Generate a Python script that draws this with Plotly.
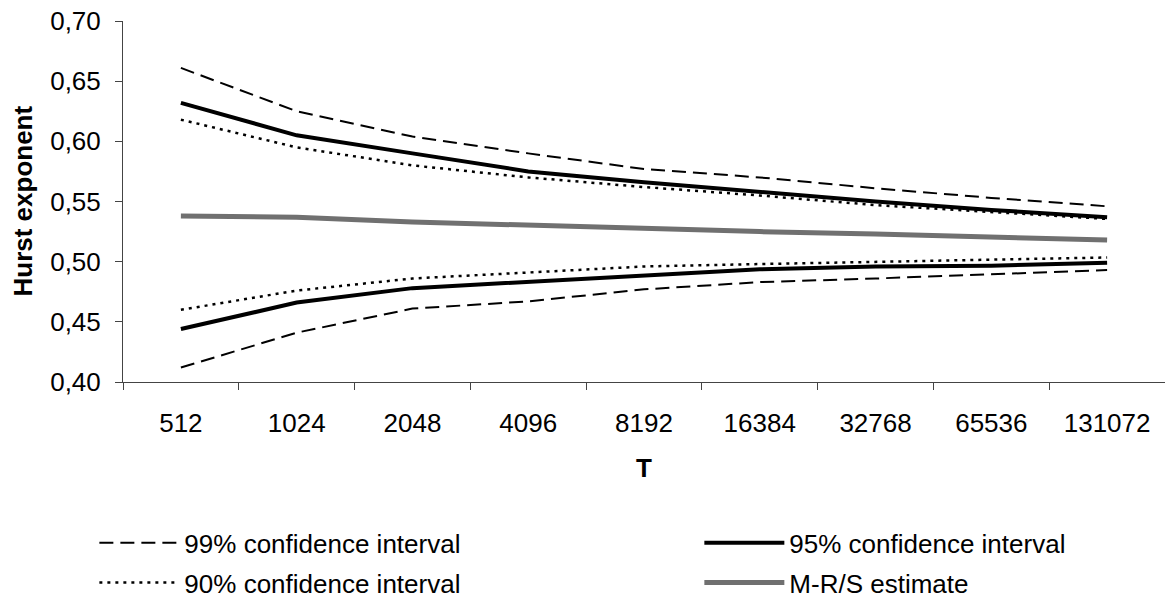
import plotly.graph_objects as go

T = ["512", "1024", "2048", "4096", "8192", "16384", "32768", "65536", "131072"]
ci99_upper = [0.661, 0.625, 0.604, 0.590, 0.577, 0.570, 0.561, 0.553, 0.546]
ci99_lower = [0.412, 0.441, 0.461, 0.467, 0.477, 0.483, 0.486, 0.4895, 0.493]
ci95_upper = [0.632, 0.605, 0.590, 0.575, 0.566, 0.558, 0.550, 0.543, 0.537]
ci95_lower = [0.444, 0.466, 0.478, 0.4835, 0.489, 0.4937, 0.496, 0.4967, 0.4992]
ci90_upper = [0.618, 0.595, 0.580, 0.570, 0.562, 0.555, 0.547, 0.5415, 0.5355]
ci90_lower = [0.460, 0.476, 0.486, 0.491, 0.496, 0.498, 0.500, 0.502, 0.5035]
mrs_estimate = [0.538, 0.537, 0.533, 0.530, 0.528, 0.525, 0.523, 0.520, 0.518]
y_title = "Hurst exponent"
x_title = "T"

FONT = "Liberation Sans, Arial, sans-serif"

fig = go.Figure()

def add(y, name, color, width, dash, show, group, legend):
    fig.add_trace(go.Scatter(
        x=T, y=y, mode="lines", name=name, legendgroup=group, showlegend=show,
        legend=legend, line=dict(color=color, width=width, dash=dash)))

add(ci99_upper, "99% confidence interval", "black", 2, "14px,7px", True, "g99", "legend")
add(ci90_upper, "90% confidence interval", "black", 2.5, "3px,5px", True, "g90", "legend")
add(ci95_upper, "95% confidence interval", "black", 4, "solid", True, "g95", "legend2")
add(mrs_estimate, "M-R/S estimate", "#707070", 5, "solid", True, "gmrs", "legend2")
add(ci99_lower, "99% confidence interval", "black", 2, "14px,7px", False, "g99", "legend")
add(ci90_lower, "90% confidence interval", "black", 2.5, "3px,5px", False, "g90", "legend")
add(ci95_lower, "95% confidence interval", "black", 4, "solid", False, "g95", "legend2")

legend_common = dict(
    orientation="v", xref="container", yref="container",
    xanchor="left", yanchor="top", itemwidth=80,
    font=dict(size=26), traceorder="grouped", tracegroupgap=3,
    bgcolor="rgba(0,0,0,0)",
)

fig.update_layout(
    width=1165, height=607,
    margin=dict(l=123, r=0, t=21, b=225, autoexpand=False),
    plot_bgcolor="white", paper_bgcolor="white",
    separators=", ",
    font=dict(family=FONT, size=26, color="black"),
    legend=dict(x=0.081, y=0.1446, **legend_common),
    legend2=dict(x=0.6003, y=0.1446, **legend_common),
    annotations=[dict(
        text="<b>" + y_title + "</b>", xref="paper", yref="paper",
        x=-0.0969, y=0.5, xanchor="center", yanchor="middle",
        textangle=-90, showarrow=False, font=dict(size=26, color="black"),
    )],
)
fig.update_xaxes(
    type="category", range=[-0.5, len(T) - 0.5],
    showline=True, linecolor="#444", linewidth=1,
    ticks="outside", tickson="boundaries", ticklen=7, tickcolor="#444",
    showgrid=False, zeroline=False, ticklabelstandoff=18, tickangle=0,
    title=dict(text="<b>" + x_title + "</b>", font=dict(size=26), standoff=21),
)
fig.update_yaxes(
    range=[0.40, 0.70], dtick=0.05, tick0=0.40, tickformat=".2f",
    showline=True, linecolor="#444", linewidth=1,
    ticks="outside", ticklen=7, tickcolor="#444",
    showgrid=False, zeroline=False, ticklabelstandoff=9,
)

fig.write_html(
    "out.html",
    config={"displayModeBar": False},
    post_script="document.body.style.margin='0';document.body.style.overflow='hidden';",
)
